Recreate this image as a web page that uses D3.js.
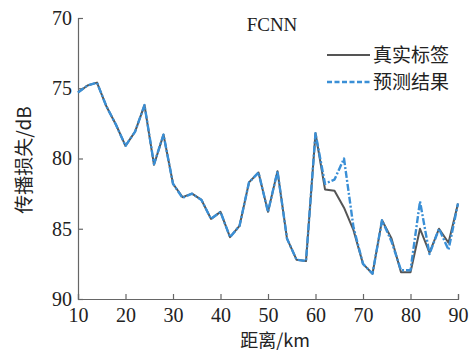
<!DOCTYPE html>
<html>
<head>
<meta charset="utf-8">
<script src="https://cdn.jsdelivr.net/npm/d3@7"></script>
<style>
  body { margin: 0; background: #fff; }
  svg { display: block; }
  .tick text { font-family: "Liberation Serif", "Times New Roman", serif; font-size: 20px; fill: #222; }
</style>
</head>
<body>
<div id="chart"></div>
<script>
// distance (km)
const distance = [10, 12, 14, 16, 18, 20, 22, 24, 26, 28, 30, 32, 34, 36, 38, 40, 42, 44, 46, 48,
  50, 52, 54, 56, 58, 60, 62, 64, 66, 68, 70, 72, 74, 76, 78, 80, 82, 84, 86, 88, 90];
// real label (dB)
const trueLoss = [75.3, 74.8, 74.6, 76.3, 77.6, 79.1, 78.1, 76.2, 80.45, 78.3, 81.8, 82.75, 82.5, 82.95, 84.3, 83.8,
  85.6, 84.8, 81.7, 81.0, 83.8, 80.9, 85.7, 87.2, 87.3, 78.2, 82.2, 82.3, 83.5, 85.1, 87.5, 88.2, 84.4, 85.7,
  88.1, 88.1, 85.0, 86.7, 85.0, 86.0, 83.2];
// FCNN prediction (dB)
const predLoss = [75.3, 74.8, 74.6, 76.3, 77.6, 79.1, 78.1, 76.2, 80.4, 78.3, 81.8, 82.8, 82.5, 82.95, 84.3, 83.8,
  85.6, 84.8, 81.7, 81.0, 83.8, 80.9, 85.7, 87.2, 87.3, 78.2, 81.8, 81.5, 80.0, 84.9, 87.5, 88.2, 84.4, 85.9,
  87.95, 87.95, 83.05, 86.8, 85.0, 86.5, 83.2];
const xTicks = [10, 20, 30, 40, 50, 60, 70, 80, 90];
const yTicks = [70, 75, 80, 85, 90];
const legendLabels = ["真实标签", "预测结果"];

const width = 472, height = 351;
const margin = { left: 78, right: 14, top: 18, bottom: 52 };

const svg = d3.select("#chart").append("svg")
  .attr("width", width)
  .attr("height", height);

const x = d3.scaleLinear().domain([10, 90]).range([margin.left, width - margin.right]);
const y = d3.scaleLinear().domain([70, 90]).range([margin.top, height - margin.bottom]);

const axisColor = "#666";

// x axis, ticks pointing inward
const gx = svg.append("g")
  .attr("transform", "translate(0," + (height - margin.bottom) + ")")
  .call(d3.axisBottom(x).tickValues(xTicks).tickSize(-5).tickPadding(7).tickFormat(d3.format("d")));
gx.select(".domain").attr("stroke", axisColor).attr("stroke-width", 1.2);
gx.selectAll(".tick line").attr("stroke", axisColor).attr("stroke-width", 1.2);
gx.selectAll(".tick text").attr("dy", "0.8em");

// y axis
const gy = svg.append("g")
  .attr("transform", "translate(" + margin.left + ",0)")
  .call(d3.axisLeft(y).tickValues(yTicks).tickSize(-5).tickPadding(6));
gy.select(".domain").attr("stroke", axisColor).attr("stroke-width", 1.2);
gy.selectAll(".tick line").attr("stroke", axisColor).attr("stroke-width", 1.2);

// axis titles
svg.append("text")
  .attr("x", 275).attr("y", 347)
  .attr("text-anchor", "middle")
  .style("font-family", "'Noto Sans CJK SC', 'Liberation Serif', serif")
  .style("font-size", "18px")
  .style("fill", "#222")
  .text("距离/km");

svg.append("text")
  .attr("transform", "translate(31,160) rotate(-90)")
  .attr("text-anchor", "middle")
  .style("font-family", "'Noto Sans CJK SC', 'Liberation Serif', serif")
  .style("font-size", "19px")
  .style("fill", "#222")
  .text("传播损失/dB");

svg.append("text")
  .attr("x", 272).attr("y", 31)
  .attr("text-anchor", "middle")
  .style("font-family", "'Liberation Serif', 'Times New Roman', serif")
  .style("font-size", "19px")
  .style("fill", "#222")
  .text("FCNN");

const line = d3.line()
  .x((d, i) => x(distance[i]))
  .y(d => y(d));

svg.append("path")
  .datum(trueLoss)
  .attr("fill", "none")
  .attr("stroke", "#555")
  .attr("stroke-width", 2)
  .attr("stroke-linejoin", "round")
  .attr("d", line);

svg.append("path")
  .datum(predLoss)
  .attr("fill", "none")
  .attr("stroke", "#3a8fd6")
  .attr("stroke-width", 2.4)
  .attr("stroke-dasharray", "7,2,2,2")
  .attr("stroke-linejoin", "round")
  .attr("d", line);

// legend
const legend = svg.append("g");
const legendStyles = [
  { color: "#555", dash: null, w: 2 },
  { color: "#3a8fd6", dash: "5,2.5", w: 2.4 }
];
legendLabels.forEach((label, i) => {
  const ly = 55 + i * 27;
  legend.append("line")
    .attr("x1", 327).attr("x2", 370)
    .attr("y1", ly).attr("y2", ly)
    .attr("stroke", legendStyles[i].color)
    .attr("stroke-width", legendStyles[i].w)
    .attr("stroke-dasharray", legendStyles[i].dash);
  legend.append("text")
    .attr("x", 373).attr("y", ly + 7)
    .style("font-family", "'Noto Sans CJK SC', serif")
    .style("font-size", "19px")
    .style("fill", "#222")
    .text(label);
});
</script>
</body>
</html>
